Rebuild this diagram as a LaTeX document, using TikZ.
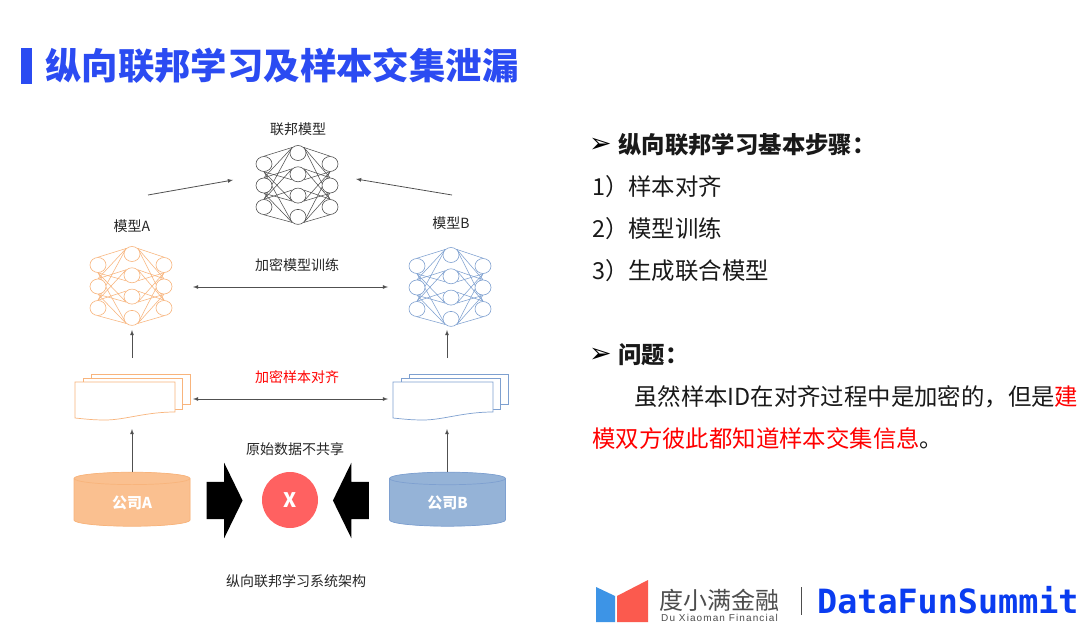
\documentclass[tikz,border=0pt]{standalone}
\usepackage{fontspec}
\setmainfont{Noto Sans CJK SC}
\newfontfamily\symfont{DejaVu Sans}
\newfontfamily\monofont{DejaVu Sans Mono}
\newfontfamily\latinfont[LetterSpace=11]{Liberation Sans}
\usetikzlibrary{shapes.geometric,shapes.arrows,backgrounds}
\definecolor{titleblue}{HTML}{2B4BF2}
\definecolor{netgray}{HTML}{505050}
\definecolor{netorange}{HTML}{F8B47C}
\definecolor{netblue}{HTML}{7EA0D0}
\definecolor{dbsand}{HTML}{FAC090}
\definecolor{dbsky}{HTML}{95B3D7}
\definecolor{stopred}{HTML}{FF6161}
\definecolor{logoblue}{HTML}{3D94E6}
\definecolor{logored}{HTML}{FB5A4E}
\definecolor{logogray}{HTML}{4D4D4D}
\definecolor{brandblue}{HTML}{0A3CF0}
% one network: name, centre x, top y, colour
\newcommand{\NeuralNet}[4]{
	\foreach \i in {1,2,3} {
		\node [neuron,draw=#4] (#1l\i) at (#2-34,#3+11+21.5*\i-21.5) {};
		\node [neuron,draw=#4] (#1r\i) at (#2+32,#3+11+21.5*\i-21.5) {};
	}
	\foreach \j in {1,2,3,4} {
		\node [neuron,draw=#4] (#1m\j) at (#2,#3+21.3*\j-21.3) {};
	}
	\begin{pgfonlayer}{background}
	\foreach \i in {1,2,3} {
		\foreach \j in {1,2,3,4} {
			\ifnum\j>\i
				\draw [#4,line width=.55pt] (#1l\i.south) -- (#1m\j.south west);
				\draw [#4,line width=.55pt] (#1r\i.south) -- (#1m\j.south east);
			\else
				\draw [#4,line width=.55pt] (#1l\i.north) -- (#1m\j.north west);
				\draw [#4,line width=.55pt] (#1r\i.north) -- (#1m\j.north east);
			\fi
		}
	}
	\end{pgfonlayer}
}
% one stack of sheets: left x, colour
\newcommand{\SheetStack}[2]{
	\draw [#2,fill=white,line width=.7pt] (#1+16,374) rectangle (#1+115,404);
	\draw [#2,fill=white,line width=.7pt] (#1+8,378) rectangle (#1+107,409);
	\draw [#2,fill=white,line width=.7pt] (#1,382) -- (#1+100,382) -- (#1+100,412)
		.. controls (#1+70,412) and (#1+50,420) .. (#1+30,420)
		.. controls (#1+18,420) and (#1+10,419) .. (#1,418) -- cycle;
}
\begin{document}
\begin{tikzpicture}[
	x=1pt,y=-1pt,
	neuron/.style={
		ellipse,
		fill=white,
		line width=.6pt,
		inner sep=0pt,
		minimum width=16pt,
		minimum height=15pt
	},
	caption/.style={
		font=\fontsize{14}{14}\selectfont,
		inner sep=0pt,
		text=black!85
	},
	body/.style={
		font=\fontsize{23.4}{23.4}\selectfont,
		anchor=west,
		inner sep=0pt,
		text=black!90
	},
	bodyhead/.style={
		body,
		font=\fontsize{23.4}{23.4}\selectfont\bfseries
	},
	marker/.style={
		font=\fontsize{27}{27}\selectfont\symfont,
		inner sep=0pt
	},
	database/.style={
		cylinder,
		shape border rotate=90,
		aspect=.31,
		line width=.7pt,
		minimum width=116pt,
		minimum height=54pt,
		inner sep=0pt,
		text=white,
		font=\fontsize{15}{15}\selectfont\bfseries
	},
	blockarrow/.style={
		single arrow,
		fill=black,
		inner xsep=0pt,
		inner ysep=18.5pt,
		minimum height=36pt,
		single arrow head extend=19pt,
		single arrow tip angle=128
	},
	ArrowLine/.style={
		-latex,
		netgray,
		line width=.8pt
	},
]
	\useasboundingbox (0,0) rectangle (1087,644);
	\begin{pgfonlayer}{background}
	\fill [white] (0,0) rectangle (1087,644);
	\end{pgfonlayer}

	% title
	\node [fill=titleblue,minimum width=11pt,minimum height=36pt,inner sep=0pt] (bar) at (26.5,66) {};
	\node [anchor=west,inner sep=0pt,text=titleblue,font=\fontsize{36.4}{36.4}\selectfont\bfseries] (title) at (45,66) {纵向联邦学习及样本交集泄漏};

	% networks
	\NeuralNet{fed}{298}{153}{netgray}
	\NeuralNet{neta}{132}{254}{netorange}
	\NeuralNet{netb}{451}{255}{netblue}
	\node [caption] (fedlabel) at (298,129) {联邦模型};
	\node [caption] (netalabel) at (132,226) {模型A};
	\node [caption] (netblabel) at (451,223) {模型B};
	\node [caption] (trainlabel) at (297,265) {加密模型训练};
	\node [caption,text=red] (alignlabel) at (297,377) {加密样本对齐};
	\node [caption] (rawlabel) at (295,449) {原始数据不共享};
	\node [caption] (syslabel) at (296,581) {纵向联邦学习系统架构};

	% sheets
	\SheetStack{75}{netorange}
	\SheetStack{393}{netblue}

	% databases
	\node [database,draw=netorange,fill=dbsand,cylinder uses custom fill,cylinder body fill=dbsand,cylinder end fill=dbsand] (dba) at (132,502.5) {\raisebox{-1.5pt}{公司A}};
	\node [database,draw=netblue,fill=dbsky,cylinder uses custom fill,cylinder body fill=dbsky,cylinder end fill=dbsky] (dbb) at (447.5,502.5) {\raisebox{-1.5pt}{公司B}};

	% no sharing
	\node [blockarrow] (pusha) at (220,500.5) {};
	\node [blockarrow,shape border rotate=180] (pushb) at (355.5,500.5) {};
	\node [circle,fill=stopred,minimum size=56pt,inner sep=0pt,text=white,font=\fontsize{20}{20}\selectfont\bfseries] (stop) at (290,500) {X};

	% free ends of the connectors
	\coordinate (fromA) at (148,195);
	\coordinate (toFedA) at (233,180);
	\coordinate (fromB) at (452,195);
	\coordinate (toFedB) at (356,179);
	\coordinate (trainL) at (193,287);
	\coordinate (trainR) at (388,287);
	\coordinate (alignL) at (193,399);
	\coordinate (alignR) at (388,399);
	\coordinate (sheetAtop) at (132,358);
	\coordinate (netAbot) at (132,330);
	\coordinate (sheetBtop) at (447,358);
	\coordinate (netBbot) at (447,330);
	\coordinate (sheetAbot) at (132,429);
	\coordinate (dbAtop) at (132,472);
	\coordinate (sheetBbot) at (447,429);
	\coordinate (dbBtop) at (447,472);

	\draw [ArrowLine] (fromA) -- (toFedA);
	\draw [ArrowLine] (fromB) -- (toFedB);
	\draw [ArrowLine,latex-latex] (trainL) -- (trainR);
	\draw [ArrowLine,latex-latex] (alignL) -- (alignR);
	\draw [ArrowLine] (sheetAtop) -- (netAbot);
	\draw [ArrowLine] (sheetBtop) -- (netBbot);
	\draw [ArrowLine] (dbAtop) -- (sheetAbot);
	\draw [ArrowLine] (dbBtop) -- (sheetBbot);

	% right column
	\node [marker] (mark1) at (600.5,145) {➢};
	\node [bodyhead] (stepshead) at (618,145) {纵向联邦学习基本步骤：};
	\node [body] (step1) at (592,187) {1）样本对齐};
	\node [body] (step2) at (592,229) {2）模型训练};
	\node [body] (step3) at (592,271) {3）生成联合模型};
	\node [marker] (mark2) at (600.5,355) {➢};
	\node [bodyhead] (issuehead) at (618,355) {问题：};
	\node [body] (issue1) at (634,397) {虽然样本ID在对齐过程中是加密的，但是\textcolor{red}{建}};
	\node [body] (issue2) at (592,439) {\textcolor{red}{模双方彼此都知道样本交集信息}。};

	% logos
	\fill [logoblue] (596,587) -- (615,596) -- (615,622) -- (596,622) -- cycle;
	\fill [logored] (617,596) -- (648,580) -- (648,622) -- (617,622) -- cycle;
	\node [inner sep=0pt,text=logogray,font=\fontsize{24}{24}\selectfont] (dxm) at (719,600) {度小满金融};
	\node [inner sep=0pt,text=logogray,font=\fontsize{10}{10}\selectfont\latinfont] (dxmen) at (719.5,618) {Du Xiaoman Financial};
	\coordinate (septop) at (801,587);
	\coordinate (sepbot) at (801,615);
	\draw [logogray,line width=1pt] (septop) -- (sepbot);
	\node [anchor=west,inner sep=0pt,text=brandblue,font=\fontsize{33.4}{33.4}\selectfont\monofont\bfseries] (brand) at (817,600) {DataFunSummit};
\end{tikzpicture}
\end{document}
